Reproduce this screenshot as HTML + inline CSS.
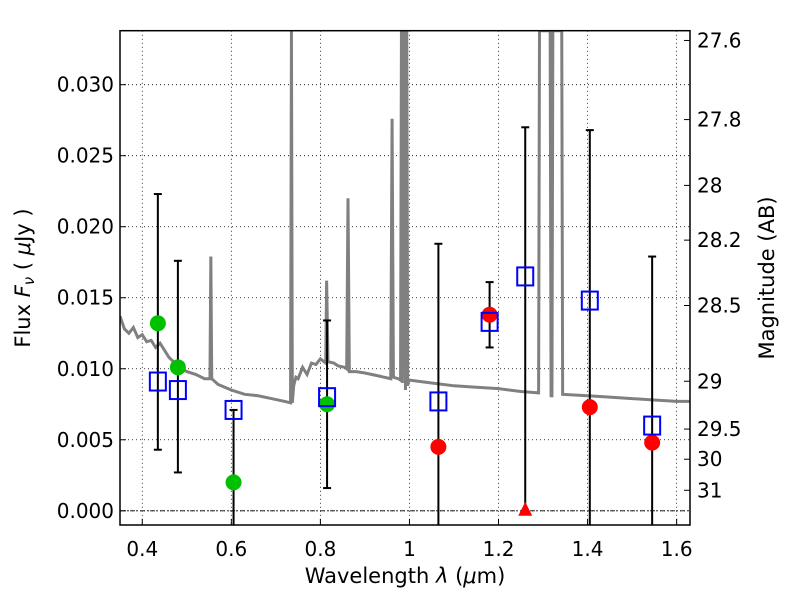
<!DOCTYPE html>
<html><head><meta charset="utf-8"><style>
body{margin:0;background:#fff;font-family:"DejaVu Sans","Liberation Sans",sans-serif}
svg text{font-family:"DejaVu Sans","Liberation Sans",sans-serif}
</style></head><body>
<svg id="chart" width="800" height="600" xmlns="http://www.w3.org/2000/svg">
<rect width="800" height="600" fill="#fff"/>
<g id="grid"></g>
<g id="spec"></g>
<g id="marks"></g>
<rect x="120" y="30.7" width="570" height="494.3" fill="none" stroke="#000" stroke-width="1.5"/>
<g id="axes"></g>
<text x="405" y="583" font-size="21" text-anchor="middle">Wavelength  <tspan font-style="italic">λ</tspan> (<tspan font-style="italic">μ</tspan>m)</text>
<text transform="translate(30,278) rotate(-90)" font-size="21" text-anchor="middle">Flux  <tspan font-style="italic">F</tspan><tspan font-style="italic" font-size="15" dy="4">ν</tspan><tspan dy="-4">  ( </tspan><tspan font-style="italic">μ</tspan>Jy )</text>
<text transform="translate(774,278) rotate(-90)" font-size="21" text-anchor="middle">Magnitude (AB)</text>
</svg>
<script>
const xTicks=[0.4,0.6,0.8,1.0,1.2,1.4,1.6];
const xTickLabels=["0.4","0.6","0.8","1","1.2","1.4","1.6"];
const yTicks=[0,0.005,0.01,0.015,0.02,0.025,0.03];
const yTickLabels=["0.000","0.005","0.010","0.015","0.020","0.025","0.030"];
const magTicks=[27.6,27.8,28,28.2,28.5,29,29.5,30,31];
const magTickLabels=["27.6","27.8","28","28.2","28.5","29","29.5","30","31"];
const greenWave=[0.435,0.48,0.605,0.815];
const greenFlux=[0.0132,0.0101,0.0020,0.0075];
const redWave=[1.065,1.18,1.405,1.545];
const redFlux=[0.0045,0.0138,0.0073,0.0048];
const blueWave=[0.435,0.48,0.605,0.815,1.065,1.18,1.26,1.405,1.545];
const blueFlux=[0.0091,0.0085,0.0071,0.0080,0.0077,0.0133,0.0165,0.0148,0.0060];
const errHigh=[0.0223,0.0176,0.0071,0.0134,0.0188,0.0161,0.0270,0.0268,0.0179];
const errLow=[0.0043,0.0027,-0.002,0.0016,-0.002,0.0115,0.0,-0.002,-0.002];
const limitWave=[1.26];
const limitFlux=[0.0];
const specWave=[0.35,0.36,0.37,0.38,0.39,0.40,0.41,0.42,0.43,0.44,0.46,0.48,0.50,0.52,0.54,0.552,0.554,0.556,0.57,0.6,0.63,0.66,0.69,0.72,0.733,0.735,0.737,0.74,0.745,0.75,0.76,0.77,0.78,0.79,0.80,0.812,0.814,0.817,0.83,0.84,0.855,0.859,0.862,0.865,0.88,0.9,0.93,0.958,0.961,0.964,0.975,0.980,0.982,0.984,0.987,0.989,0.991,0.994,0.996,0.998,1.0,1.05,1.1,1.15,1.2,1.25,1.290,1.292,1.316,1.318,1.320,1.322,1.342,1.344,1.4,1.45,1.5,1.55,1.6,1.63];
const specFlux=[0.0137,0.0128,0.0125,0.0129,0.0122,0.0124,0.0119,0.0120,0.0115,0.0118,0.0108,0.0102,0.0098,0.0096,0.0093,0.0093,0.0179,0.0093,0.0089,0.0085,0.0082,0.0081,0.0079,0.0077,0.0076,0.034,0.0076,0.0088,0.0094,0.0093,0.0101,0.0096,0.0104,0.0103,0.0107,0.0104,0.0162,0.0105,0.0104,0.0102,0.0101,0.0100,0.0220,0.0098,0.0098,0.0097,0.0095,0.0093,0.0276,0.0094,0.0093,0.0092,0.034,0.0090,0.034,0.034,0.0085,0.034,0.0088,0.0092,0.0092,0.0090,0.0088,0.0087,0.0086,0.0084,0.0083,0.034,0.034,0.0081,0.0081,0.034,0.034,0.0082,0.0081,0.0080,0.0079,0.0078,0.0077,0.0077];
const X0=120,X1=690,XMIN=0.35,XMAX=1.63,Y0=525,Y1=30.7,YMIN=-0.001,YMAX=0.0338;
const sx=v=>X0+(v-XMIN)/(XMAX-XMIN)*(X1-X0);
const sy=v=>{v=Math.max(YMIN,Math.min(YMAX,v));return Y0-(v-YMIN)/(YMAX-YMIN)*(Y0-Y1);};
const magToFlux=m=>Math.pow(10,(23.9-m)/2.5);
const NS="http://www.w3.org/2000/svg";
function mk(tag,parent,attrs){const e=document.createElementNS(NS,tag);for(const k in attrs)e.setAttribute(k,attrs[k]);document.getElementById(parent).appendChild(e);return e;}
xTicks.forEach((t,i)=>{
 const g=mk('line','grid',{x1:sx(t),x2:sx(t),y1:Y1,y2:Y0,stroke:'#000','stroke-width':0.8,'stroke-dasharray':'1,3'});
 
 
 const tk=mk('line','axes',{x1:sx(t),x2:sx(t),y1:Y0,y2:Y0-6,stroke:'#000'});
 
 
 const tx=mk('text','axes',{x:sx(t),y:Y0+31,'font-size':20,'text-anchor':'middle'});
 tx.textContent=xTickLabels[i];
 
 
});
yTicks.forEach((t,i)=>{
 const g=mk('line','grid',{x1:X0,x2:X1,y1:sy(t),y2:sy(t),stroke:'#000','stroke-width':0.8,'stroke-dasharray':'1,3'});
 
 
 const tk=mk('line','axes',{x1:X0,x2:X0+6,y1:sy(t),y2:sy(t),stroke:'#000'});
 
 
 const tx=mk('text','axes',{x:X0-6,y:sy(t)+7,'font-size':20,'text-anchor':'end'});
 tx.textContent=yTickLabels[i];
 
 
});
const zl=mk('line','grid',{x1:X0,x2:X1,y1:sy(0),y2:sy(0),stroke:'#000','stroke-width':0.8,'stroke-dasharray':'5,2,1,2'});


magTicks.forEach((m,i)=>{
 const y=sy(magToFlux(m));
 const tk=mk('line','axes',{x1:X1,x2:X1-6,y1:y,y2:y,stroke:'#000'});
 
 
 const tx=mk('text','axes',{x:X1+7,y:y+7,'font-size':20});
 tx.textContent=magTickLabels[i];
 
 
});
const cp=mk('clipPath','spec',{id:'clip'});
const cr=document.createElementNS(NS,'rect');cr.setAttribute('x',X0);cr.setAttribute('y',Y1);cr.setAttribute('width',X1-X0);cr.setAttribute('height',Y0-Y1);cp.appendChild(cr);
const sp=mk('polyline','spec',{points:specWave.map((w,i)=>sx(w)+','+sy(specFlux[i])).join(' '),fill:'none',stroke:'#808080','stroke-width':3,'clip-path':'url(#clip)'});


blueWave.forEach((w,i)=>{
 const x=sx(w),yh=sy(errHigh[i]),yl=sy(errLow[i]);
 const e=mk('line','marks',{x1:x,x2:x,y1:yh,y2:yl,stroke:'#000','stroke-width':2});
 
 
 const c=mk('line','marks',{x1:x-4,x2:x+4,y1:yh,y2:yh,stroke:'#000','stroke-width':2});
 
 
 if(errLow[i]>=0){const c2=mk('line','marks',{x1:x-4,x2:x+4,y1:yl,y2:yl,stroke:'#000','stroke-width':2});
 
 }
});
greenWave.forEach((w,i)=>{
 const c=mk('circle','marks',{cx:sx(w),cy:sy(greenFlux[i]),r:8,fill:'#00c000'});
 
 
});
redWave.forEach((w,i)=>{
 const c=mk('circle','marks',{cx:sx(w),cy:sy(redFlux[i]),r:8,fill:'#f00'});
 
 
});
limitWave.forEach((w,i)=>{
 const x=sx(w),y=sy(limitFlux[i]);
 const t=mk('polygon','marks',{points:`${x},${y-9} ${x-7},${y+5} ${x+7},${y+5}`,fill:'#f00'});
 
 
});
blueWave.forEach((w,i)=>{
 const s=mk('rect','marks',{x:sx(w)-8,y:sy(blueFlux[i])-9,width:16,height:18,fill:'none',stroke:'#0000ff','stroke-width':2});
 
 
});
</script>
</body></html>
